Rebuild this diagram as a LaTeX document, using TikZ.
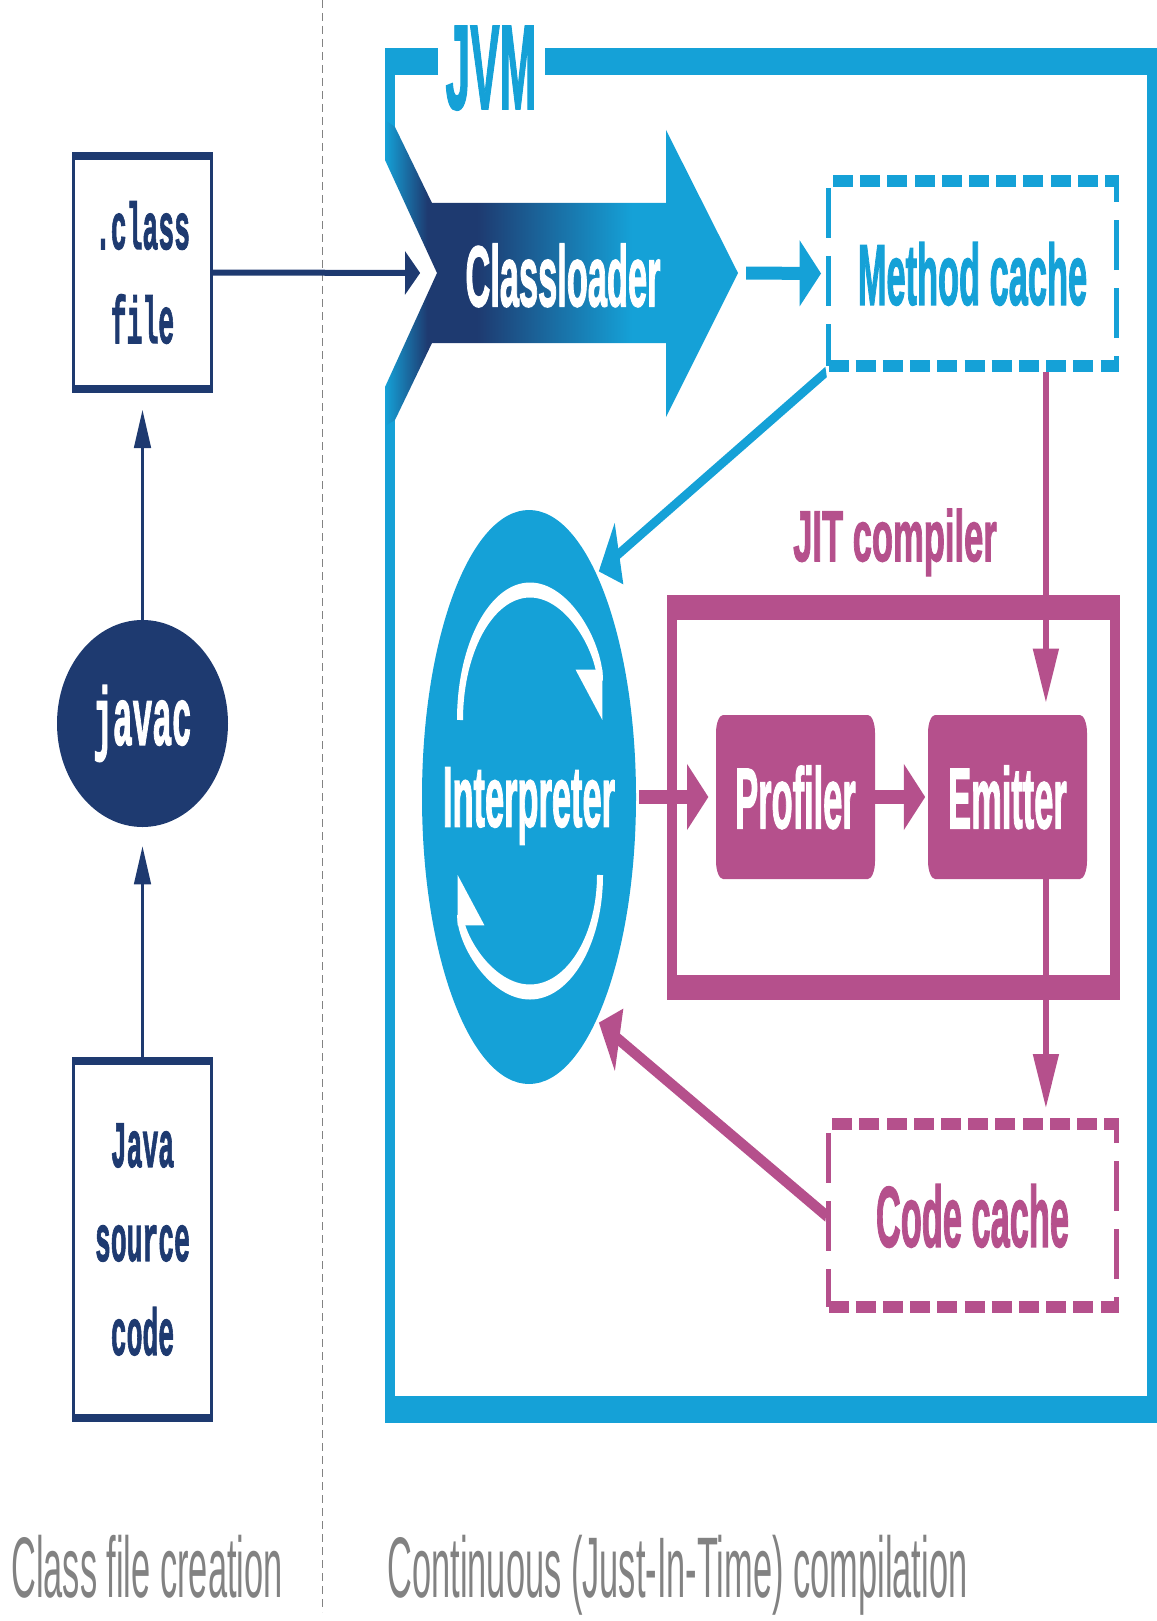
\documentclass[tikz,border=0pt]{standalone}
\usepackage{fontspec}
\setmainfont{Liberation Sans}[BoldFeatures={FakeBold=2}]
\newfontfamily\codefont{Liberation Mono}[BoldFeatures={FakeBold=2}]
\usetikzlibrary{arrows.meta,shapes.geometric}
\definecolor{jvmnavy}{RGB}{30,58,112}
\definecolor{jvmblue}{RGB}{21,161,215}
\definecolor{jitpink}{RGB}{181,80,140}
\definecolor{notegray}{RGB}{130,130,130}
\pgfdeclarehorizontalshading{loadershade}{100bp}{color(0bp)=(jvmblue); color(25bp)=(jvmblue); color(31bp)=(jvmnavy); color(38bp)=(jvmnavy); color(60bp)=(jvmblue); color(100bp)=(jvmblue)}

\begin{document}
\begin{tikzpicture}[
    filebox/.style={draw=jvmnavy, line width=4pt, minimum width=172pt, inner sep=0pt, align=center, text=jvmnavy, font=\codefont\bfseries\fontsize{33}{47}\selectfont},
    whitebold/.style={text=white, text depth=0pt, inner sep=0pt, font=\bfseries\fontsize{43}{50}\selectfont},
    cachebox/.style={line width=6pt, dash pattern=on 25pt off 9pt, minimum width=360pt, inner sep=0pt, text depth=0pt, font=\bfseries\fontsize{43}{50}\selectfont},
    stagebox/.style={whitebold, fill=jitpink, rounded corners=9pt, minimum width=198.75pt, minimum height=82pt},
    jvmframe/.style={jvmblue, line width=13.5pt},
    navyarrow/.style={jvmnavy, line width=3pt, -{Triangle[length=19pt,width=21pt]}},
    bluearrow/.style={jvmblue, line width=6.5pt, -{Triangle[length=27pt,width=31pt]}},
    pinkarrow/.style={jitpink, line width=7pt, -{Triangle[length=27pt,width=31pt]}},
    loopline/.style={white, line width=7.5pt, -{Triangle[harpoon,swap,length=23pt,width=60pt]}},
    notetext/.style={text=notegray, anchor=base, inner sep=0pt, font=\fontsize{43}{50}\selectfont}
  ]
\useasboundingbox (0pt,0pt) rectangle (578pt,-810.5pt);
\begin{scope}[transform canvas={xscale=0.4}, x=1.25pt, y=-0.5pt]
\draw[notegray, line width=1.25pt, dash pattern=on 4pt off 2.5pt] (322,0) -- (322,1612);
\draw[jvmframe] (438,61.5) -- (390,61.5) -- (390,140);
\draw[jvmframe] (545,61.5) -- (1152,61.5) -- (1152,1409) -- (390,1409) -- (390,410);
\node[text=jvmblue, text depth=0pt, inner sep=0pt, font=\bfseries\fontsize{60}{60}\selectfont] (jvm) at (491,67.5) {\scalebox{0.92}[1]{JVM}};

\node[filebox, minimum height=116.5pt] (classfile) at (142.5,272.5) {.class\\file};
\node[ellipse, fill=jvmnavy, text=white, minimum width=213.75pt, minimum height=103.5pt, inner sep=0pt, font=\codefont\bfseries\fontsize{41}{41}\selectfont] (javac) at (142.5,723.5) {javac};
\node[filebox, minimum height=178.5pt] (javasrc) at (142.5,1239.5) {Java\\source\\code};

\shade[shading=loadershade] (385,120) -- (395,127) -- (432,203) -- (666,203) -- (666,130)
  -- (738,273) coordinate (cltip) -- (666,417) -- (666,343) -- (432,343) -- (395,420)
  -- (385,426) -- (385,387) -- (437,273) coordinate (clnotch) -- (385,160) -- cycle;
\node[whitebold] (loader) at (563,275) {Classloader};
\node[cachebox, draw=jvmblue, text=jvmblue, minimum height=92.5pt] (mcache) at (972.5,273.5) {Method cache};

\node[ellipse, fill=jvmblue, minimum width=267.5pt, minimum height=287pt] (interp) at (529,797) {};
\draw[loopline] (460,720) arc[start angle=180, end angle=360, x radius=70, y radius=130];
\draw[loopline] (600,875) arc[start angle=0, end angle=180, x radius=70, y radius=117];
\node[whitebold] (interptext) at (interp) {Interpreter};

\node[text=jitpink, text depth=0pt, inner sep=0pt, font=\bfseries\fontsize{36}{40}\selectfont] (jitlabel) at (895,535) {\scalebox{1.2}[1]{JIT compiler}};
\node[draw=jitpink, line width=12.5pt, minimum width=553.75pt, minimum height=190pt] (jitbox) at (893.5,797.5) {};
\node[stagebox] (profiler) at (795.5,797) {Profiler};
\node[stagebox] (emitter) at (1007.5,797) {Emitter};
\node[cachebox, draw=jitpink, text=jitpink, minimum height=91.5pt] (ccache) at (972.5,1215.5) {Code cache};

\draw[navyarrow, shorten >=9.5pt] (javasrc) -- (javac);
\draw[navyarrow, shorten >=8.5pt] (javac) -- (classfile);
\draw[navyarrow, shorten >=21pt] (classfile.east) -- (clnotch);
\draw[bluearrow, shorten <=10pt, shorten >=6pt] (cltip) -- (mcache.west);
\draw[bluearrow, line width=5.5pt, shorten >=3pt] (mcache.south west) -- (interp.53);
\draw[pinkarrow, shorten <=4pt, shorten >=9pt] (interp.east) -- (profiler.west);
\draw[pinkarrow, shorten >=3pt] (profiler) -- (emitter);
\coordinate (jitin) at ([xshift=48pt]emitter.north);
\coordinate (jitout) at ([xshift=48pt]emitter.south);
\draw[pinkarrow, shorten >=6pt] (jitin |- mcache.south) -- (jitin);
\draw[pinkarrow, shorten >=5pt] (jitout) -- (jitout |- ccache.north);
\draw[pinkarrow, line width=6.5pt, shorten >=3pt] (ccache.west) -- (interp.-53);

\node[notetext] (phase1) at (147,1597) {Class file creation};
\node[notetext] (phase2) at (677.5,1597) {Continuous (Just-In-Time) compilation};
\end{scope}
\end{tikzpicture}
\end{document}
